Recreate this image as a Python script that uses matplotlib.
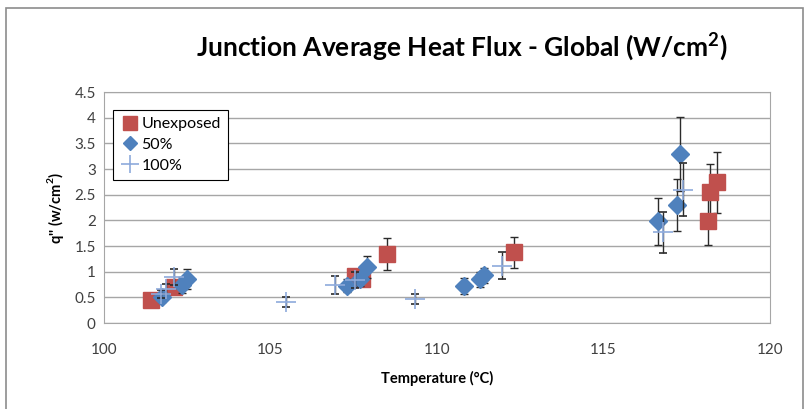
import matplotlib
matplotlib.use("Agg")
import matplotlib.pyplot as plt
from matplotlib.patches import Rectangle
from matplotlib.lines import Line2D

# junction average heat flux vs temperature, three exposure levels
unexp_t = [101.4, 102.1, 107.55, 107.75, 108.5, 112.3, 118.15, 118.2, 118.4]
unexp_q = [0.45, 0.70, 0.92, 0.86, 1.34, 1.38, 1.98, 2.55, 2.74]
unexp_err = [0.05, 0.08, 0.12, 0.12, 0.31, 0.30, 0.45, 0.55, 0.60]

half_t = [101.75, 102.35, 102.5, 107.3, 107.7, 107.9, 110.8, 111.3, 111.4, 116.65, 117.2, 117.3]
half_q = [0.50, 0.74, 0.86, 0.73, 0.85, 1.09, 0.72, 0.85, 0.93, 1.98, 2.30, 3.29]
half_err = [0.08, 0.15, 0.20, 0.13, 0.12, 0.22, 0.16, 0.15, 0.15, 0.45, 0.50, 0.72]

full_t = [101.7, 101.85, 102.1, 105.45, 106.95, 107.55, 109.35, 111.95, 116.8, 117.4]
full_q = [0.56, 0.66, 0.90, 0.41, 0.74, 0.84, 0.47, 1.12, 1.77, 2.60]
full_err = [0.08, 0.10, 0.15, 0.10, 0.17, 0.15, 0.10, 0.26, 0.40, 0.52]

red = "#C0504D"
blue = "#4F81BD"
light = "#8EAADB"

plt.rcParams['font.family'] = ['Lato', 'DejaVu Sans']

fig = plt.figure(figsize=(8.07, 4.09), dpi=100)
fig.patches.append(Rectangle((0.008, -0.05), 0.987, 1.03, transform=fig.transFigure,
                             fill=False, edgecolor="#8C8C8C", linewidth=1.2))
ax = fig.add_axes([0.129, 0.21, 0.825, 0.565])

eb = dict(ecolor="#2B2B2B", elinewidth=1.0, capsize=3, capthick=1.0, linestyle="none")
ax.errorbar(unexp_t, unexp_q, yerr=unexp_err, marker="s", ms=11, mfc=red, mec=red,
            zorder=3, **eb)
ax.errorbar(half_t, half_q, yerr=half_err, marker="D", ms=9, mfc=blue, mec=blue,
            zorder=4, **eb)
ax.errorbar(full_t, full_q, yerr=full_err, marker="+", ms=14, mew=1.2, mfc=light, mec=light,
            zorder=5, **eb)

ax.set_xlim(100, 120)
ax.set_ylim(0, 4.5)
ax.set_xticks([100, 105, 110, 115, 120])
ax.set_yticks([0, 0.5, 1, 1.5, 2, 2.5, 3, 3.5, 4, 4.5])
ax.set_yticklabels(["0", "0.5", "1", "1.5", "2", "2.5", "3", "3.5", "4", "4.5"])
ax.yaxis.grid(True, color="#A6A6A6", linewidth=1.0)
ax.set_axisbelow(True)
for s in ax.spines.values():
    s.set_color("#A6A6A6")
ax.tick_params(axis="both", length=0, labelsize=11, colors="#404040", pad=6)
ax.tick_params(axis="x", pad=14)

ax.set_xlabel("Temperature (°C)", fontsize=10.5, fontweight="bold", labelpad=10)
ax.set_ylabel("q'' (w/cm$^\\mathregular{2}$)", fontsize=10.5, fontweight="bold", labelpad=6)
fig.text(0.572, 0.885, "Junction Average Heat Flux - Global (W/cm$^\\mathregular{2}$)",
         fontsize=19, fontweight="bold", ha="center", va="center")

handles = [
    Line2D([], [], linestyle="none", marker="s", ms=10, color=red, label="Unexposed"),
    Line2D([], [], linestyle="none", marker="D", ms=7, color=blue, label="50%"),
    Line2D([], [], linestyle="none", marker="+", ms=13, mew=1.2, color=light, label="100%"),
]
leg = ax.legend(handles=handles, loc="upper left", bbox_to_anchor=(0.013, 0.922),
                fontsize=11.5, fancybox=False, framealpha=1, edgecolor="black",
                borderpad=0.45, handletextpad=0.05, handlelength=1.3,
                labelspacing=0.4, borderaxespad=0)
leg.get_frame().set_linewidth(0.8)

fig.savefig("out.png", dpi=100)
